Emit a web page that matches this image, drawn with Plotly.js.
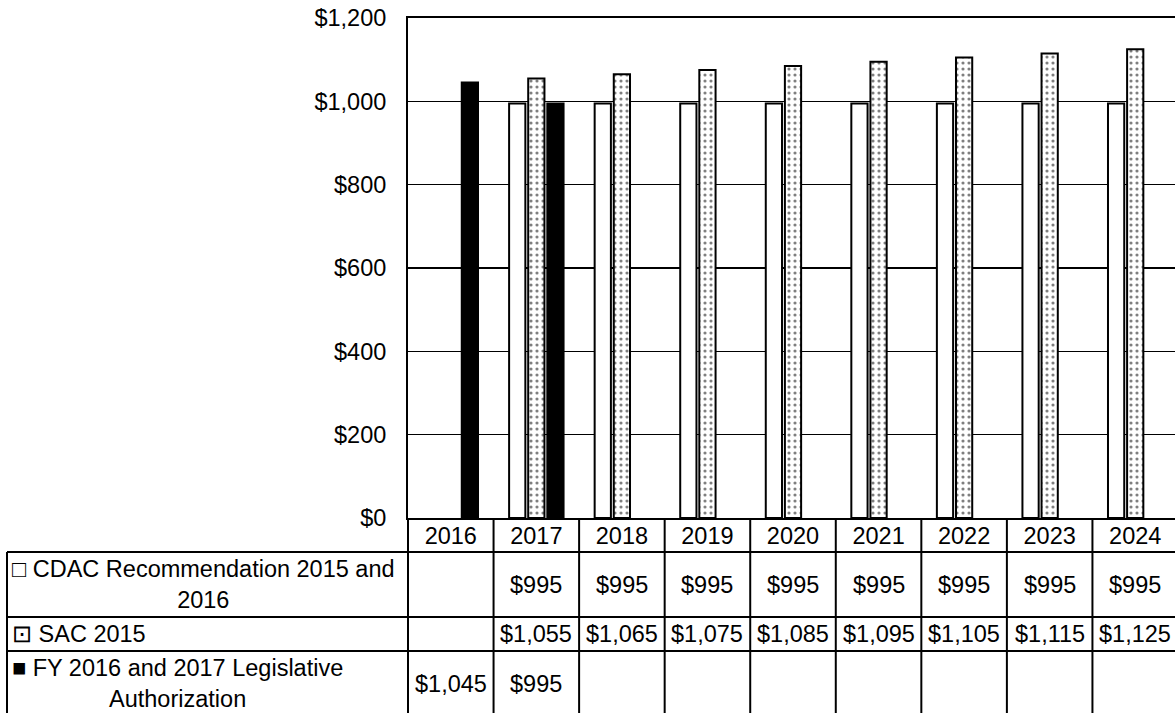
<!DOCTYPE html>
<html>
<head>
<meta charset="utf-8">
<script src="https://cdn.plot.ly/plotly-3.0.1.min.js"></script>
<style>
html,body{margin:0;padding:0;overflow:hidden;background:#fff;}
#chart{width:1180px;height:713px;}
</style>
</head>
<body>
<div id="chart"></div>
<script>
// ---- data ----
const years = ["2016","2017","2018","2019","2020","2021","2022","2023","2024"];
const cdacName = "CDAC Recommendation 2015 and<br>2016";
const sacName = "SAC 2015";
const fyName = "FY 2016 and 2017 Legislative<br>Authorization";
const cdacKey = "\u25A1";
const sacKey = "\u22A1";
const fyKey = "\u25A0";
const cdacValues = [null, 995, 995, 995, 995, 995, 995, 995, 995];
const sacValues  = [null, 1055, 1065, 1075, 1085, 1095, 1105, 1115, 1125];
const fyValues   = [1045, 995, null, null, null, null, null, null, null];
const yTicks = [0, 200, 400, 600, 800, 1000, 1200];

// ---- layout helpers ----
const W = 1180, H = 713;
const M = {l: 408, r: 2, t: 18, b: 195};
const plotW = W - M.l - M.r, plotH = H - M.t - M.b;
const px2x = p => (p - M.l) / plotW;          // pixel -> paper x
const py2y = p => (H - M.b - p) / plotH;      // pixel -> paper y
const FONT = "Liberation Sans, Arial, sans-serif";
const FS = 23.5;

function fmt(v){ return v == null ? "" : "$" + v.toLocaleString("en-US"); }

const traces = [
  {type: "bar", name: cdacName, x: years, y: cdacValues,
   marker: {color: "#fff", line: {color: "#000", width: 2}}},
  {type: "bar", name: sacName, x: years, y: sacValues,
   marker: {color: "#fff", line: {color: "#000", width: 2},
            pattern: {shape: ".", fgcolor: "#000", bgcolor: "#fff", size: 6, solidity: 0.22, fillmode: "overlay"}}},
  {type: "bar", name: fyName, x: years, y: fyValues,
   marker: {color: "#000", line: {color: "#000", width: 2}}}
];

// table geometry (pixels)
const rowLines = [552, 617, 651, 716];
const rowCenters = [584.5, 634, 683.5];
const headerBottom = 552;
const tableLeft = 7;

const shapes = [];
const annotations = [];

// vertical separators between categories (category index coords), through the table
for (let i = 0; i <= years.length; i++) {
  shapes.push({type: "line", xref: "x", yref: "paper", x0: i - 0.5, x1: i - 0.5,
               y0: 0, y1: py2y(rowLines[3]), line: {color: "#000", width: 2}});
}
// horizontal row lines
[headerBottom, rowLines[1], rowLines[2]].forEach(p => {
  shapes.push({type: "line", xref: "paper", yref: "paper", x0: px2x(tableLeft), x1: 1.01,
               y0: py2y(p), y1: py2y(p), line: {color: "#000", width: 2}});
});
// left border and label column right border
shapes.push({type: "line", xref: "paper", yref: "paper", x0: px2x(tableLeft), x1: px2x(tableLeft),
             y0: py2y(headerBottom), y1: py2y(rowLines[3]), line: {color: "#000", width: 2}});
shapes.push({type: "line", xref: "paper", yref: "paper", x0: 0, x1: 0,
             y0: 0, y1: py2y(rowLines[3]), line: {color: "#000", width: 2}});

// row labels
const labels = [cdacKey + " " + cdacName, sacKey + " " + sacName, fyKey + " " + fyName];
labels.forEach((t, r) => {
  annotations.push({xref: "paper", yref: "paper", x: px2x(10), y: py2y(rowCenters[r]),
    xanchor: "left", yanchor: "middle", align: "center", text: t, showarrow: false,
    font: {family: FONT, size: FS, color: "#000"}});
});
// cell values
const series = [cdacValues, sacValues, fyValues];
series.forEach((vals, r) => {
  vals.forEach((v, i) => {
    if (v == null) return;
    annotations.push({xref: "x", yref: "paper", x: i, y: py2y(rowCenters[r]),
      xanchor: "center", yanchor: "middle", text: fmt(v), showarrow: false,
      font: {family: FONT, size: FS, color: "#000"}});
  });
});

const layout = {
  width: W, height: H,
  margin: M,
  paper_bgcolor: "#fff", plot_bgcolor: "#fff",
  showlegend: false,
  barmode: "group", bargap: 0.33, bargroupgap: 0.15,
  font: {family: FONT, size: FS, color: "#000"},
  xaxis: {type: "category", range: [-0.5, years.length - 0.5], autorange: false,
          showgrid: false, ticks: "", showline: true, mirror: true,
          linecolor: "#000", linewidth: 2, tickfont: {family: FONT, size: FS, color: "#000"},
          ticklabelstandoff: -4, fixedrange: true},
  yaxis: {range: [0, 1200], autorange: false, tickvals: yTicks,
          ticktext: yTicks.map(v => "$" + v.toLocaleString("en-US")),
          showgrid: true, gridcolor: "#000", gridwidth: 1.6, zeroline: false,
          showline: true, mirror: true, linecolor: "#000", linewidth: 2, ticks: "",
          ticklabelstandoff: 15, tickfont: {family: FONT, size: FS, color: "#000"}, fixedrange: true},
  shapes: shapes,
  annotations: annotations
};

Plotly.newPlot("chart", traces, layout, {displayModeBar: false, staticPlot: true});
</script>
</body>
</html>
